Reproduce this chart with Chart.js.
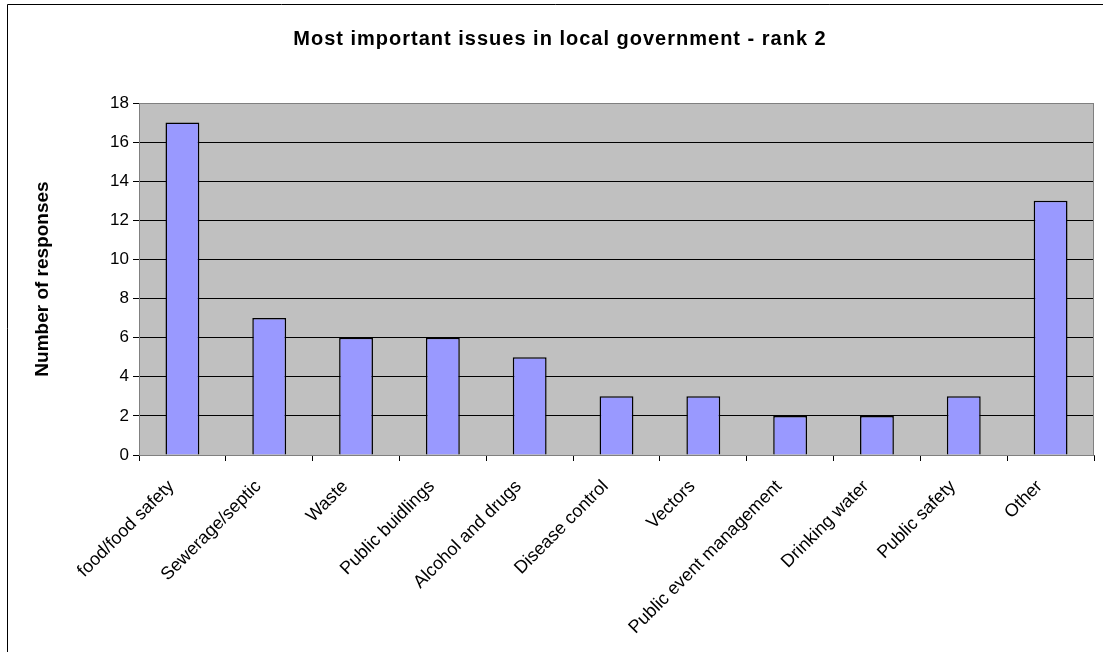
<!DOCTYPE html>
<html>
<head>
<meta charset="utf-8">
<script src="https://cdn.jsdelivr.net/npm/chart.js@4/dist/chart.umd.min.js"></script>
<style>
  html, body { margin: 0; padding: 0; background: #fff; }
  #wrap { width: 1103px; height: 652px; position: relative; }
</style>
</head>
<body>
<div id="wrap"><canvas id="chart" width="1103" height="652"></canvas></div>
<script>
// chart data
const categories = ['food/food safety', 'Sewerage/septic', 'Waste', 'Public buidlings', 'Alcohol and drugs',
    'Disease control', 'Vectors', 'Public event management', 'Drinking water', 'Public safety', 'Other'];
const responses = [17, 7, 6, 6, 5, 3, 3, 2, 2, 3, 13];
const yTicks = [0, 2, 4, 6, 8, 10, 12, 14, 16, 18];

const chartTitle = 'Most important issues in local government - rank 2';
const yTitle = 'Number of responses';

// frame, plot background and title drawn around the chart
const decorPlugin = {
    id: 'decor',
    beforeDraw(chart) {
        const ctx = chart.ctx;
        const a = chart.chartArea;
        ctx.save();
        ctx.fillStyle = '#fff';
        ctx.fillRect(0, 0, chart.width, chart.height);
        // outer frame (left and top edges visible)
        ctx.strokeStyle = '#000';
        ctx.lineWidth = 1;
        ctx.beginPath();
        ctx.moveTo(7.5, chart.height);
        ctx.lineTo(7.5, 4.5);
        ctx.lineTo(chart.width, 4.5);
        ctx.stroke();
        // plot area
        ctx.fillStyle = '#C0C0C0';
        ctx.fillRect(a.left, a.top, a.right - a.left, a.bottom - a.top);
        // title
        ctx.fillStyle = '#000';
        ctx.font = 'bold 20px "Liberation Sans", Arial, sans-serif';
        ctx.letterSpacing = '1px';
        ctx.textAlign = 'center';
        ctx.textBaseline = 'middle';
        ctx.fillText(chartTitle, 560, 39);
        ctx.restore();
    },
    afterDatasetsDraw(chart) {
        const ctx = chart.ctx;
        const a = chart.chartArea;
        ctx.save();
        ctx.strokeStyle = '#808080';
        ctx.lineWidth = 1;
        ctx.strokeRect(a.left + 0.5, a.top + 0.5, a.right - a.left - 1, a.bottom - a.top);
        ctx.restore();
    }
};

Chart.defaults.font.family = '"Liberation Sans", Arial, sans-serif';
Chart.defaults.color = '#000';

new Chart(document.getElementById('chart'), {
    type: 'bar',
    data: {
        labels: categories,
        datasets: [{
            label: 'Responses',
            data: responses,
            backgroundColor: '#9999FF',
            borderColor: '#000',
            borderWidth: 1.5,
            categoryPercentage: 1,
            barPercentage: 0.39
        }]
    },
    options: {
        responsive: false,
        animation: false,
        layout: { padding: { top: 103, right: 9, left: 10, bottom: 0 } },
        plugins: {
            legend: { display: false },
            tooltip: { enabled: false },
            title: { display: false }
        },
        scales: {
            x: {
                grid: {
                    display: true,
                    drawOnChartArea: false,
                    color: '#000',
                    tickLength: 6,
                    offset: true
                },
                border: { color: '#404040', width: 1 },
                ticks: {
                    font: { size: 18 },
                    minRotation: 45,
                    maxRotation: 45,
                    autoSkip: false,
                    padding: 15,
                    labelOffset: -11
                },
                afterFit(scale) { scale.height = 652 - 455; }
            },
            y: {
                min: 0,
                max: 18,
                afterBuildTicks(scale) { scale.ticks = yTicks.map(v => ({ value: v })); },
                grid: { color: '#000', tickLength: 6 },
                border: { color: '#404040', width: 1 },
                ticks: { font: { size: 17 }, padding: 4 },
                title: {
                    display: true,
                    text: yTitle,
                    font: { size: 19, weight: 'bold' },
                    padding: { top: 21, bottom: 0 }
                },
                afterFit(scale) { scale.width = 139 - 10; }
            }
        }
    },
    plugins: [decorPlugin]
});
</script>
</body>
</html>
